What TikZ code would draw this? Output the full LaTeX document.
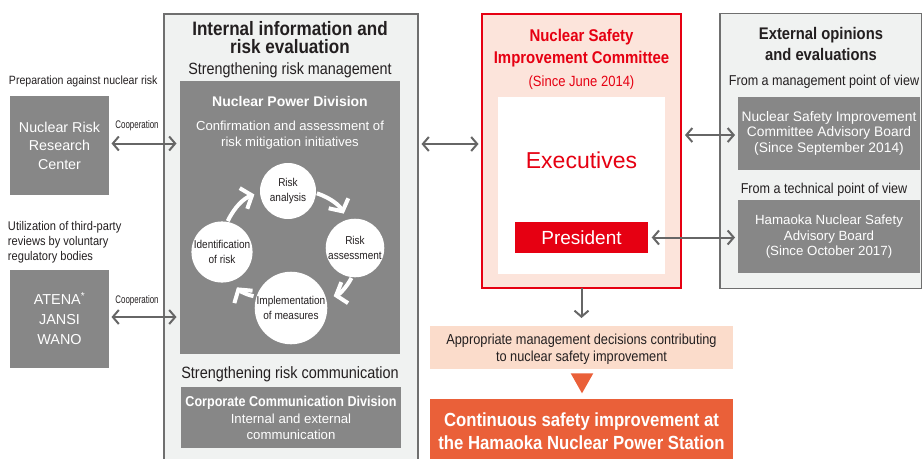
\documentclass[tikz,border=0pt]{standalone}
\usepackage{fontspec}
\setmainfont{Liberation Sans}[FakeStretch=0.88]
\newfontfamily\wide{Liberation Sans}
\newfontfamily\narrow{Liberation Sans}[FakeStretch=0.72]
\usetikzlibrary{arrows.meta}
\definecolor{panelc}{HTML}{F0F2F1}
\definecolor{pborder}{HTML}{6F6F6F}
\definecolor{gboxc}{HTML}{878787}
\definecolor{arrc}{HTML}{666666}
\definecolor{nred}{HTML}{E60012}
\definecolor{peachc}{HTML}{FCE4DB}
\definecolor{peachb}{HTML}{FBDCCB}
\definecolor{orng}{HTML}{EA6039}
\definecolor{txt}{HTML}{231F20}
\newcommand\fsz[2]{\fontsize{#1}{#2}\selectfont}
\begin{document}
\begin{tikzpicture}[x=1pt,y=-1pt,
  every node/.style={inner sep=0pt,outer sep=0pt},
  panel/.style={draw=pborder,line width=1.1pt,fill=panelc,anchor=north west},
  gbox/.style={fill=gboxc,text=white,align=center,anchor=north west},
  lbl/.style={text=txt,align=center},
  dbl/.style={draw=arrc,line width=2pt,{Straight Barb[length=6pt,width=14pt]}-{Straight Barb[length=6pt,width=14pt]}},
  sgl/.style={draw=arrc,line width=2pt,-{Straight Barb[length=6pt,width=14pt]}},
  cyc/.style={draw=white,line width=4pt,-{Straight Barb[length=9pt,width=22pt]}},
  circ/.style={circle,fill=white,minimum size=56pt,text=txt,align=center,font=\fsz{11.4}{15.5}}
]
\useasboundingbox (0,0) rectangle (923,458);

% ---------- left side ----------
\node[lbl,anchor=west,font=\fsz{12}{15}] (prep) at (9,81.5) {Preparation against nuclear risk};
\node[gbox,minimum width=99pt,minimum height=99pt,font=\wide\fsz{14.3}{18.5}] (nrrc) at (10,96) {Nuclear Risk\\Research\\Center};
\node[lbl,anchor=west,align=left,font=\fsz{12.6}{15.2}] (util) at (8,242.5) {Utilization of third-party\\reviews by voluntary\\regulatory bodies};
\node[gbox,minimum width=99pt,minimum height=98pt,font=\wide\fsz{14.4}{20}] (atena) at (10,270) {ATENA\textsuperscript{*}\\JANSI\\WANO};

% ---------- internal panel ----------
\node[panel,minimum width=254pt,minimum height=470pt] (intp) at (164,14) {};
\node[lbl,font=\bfseries\fsz{19.4}{17.5}] (intt) at (290,37.5) {Internal information and\\risk evaluation};
\node[lbl,font=\fsz{16.3}{18}] (srm) at (290,69.8) {Strengthening risk management};
\node[gbox,minimum width=220pt,minimum height=273pt] (npd) at (180,81) {};
\node[text=white,font=\wide\bfseries\fsz{14}{16}] (npdt) at (290,101) {Nuclear Power Division};
\node[text=white,align=center,font=\wide\fsz{13.1}{16.7}] (npds) at (290,135) {Confirmation and assessment of\\risk mitigation initiatives};

\node[circ] (ra) at (288,191) {Risk\\analysis};
\node[circ] (rs) at (355,248) {Risk\\assessment};
\node[circ] (im) at (291,308) {Implementation\\of measures};
\node[circ] (id) at (222,252) {Identification\\of risk};
\draw[cyc,shorten <=1pt,shorten >=6pt] (id.80) to[bend left=22] (ra.183);
\draw[cyc,shorten <=1pt,shorten >=7pt] (ra.-4) to[bend left=22] (rs.106);
\draw[cyc,shorten <=1pt,shorten >=8pt] (rs.264) to[bend left=22] (im.15);
\draw[cyc,shorten <=3pt,shorten >=8pt] (im.162) to[bend left=22] (id.-70);

\node[lbl,font=\fsz{16.4}{18}] (src) at (290,374) {Strengthening risk communication};
\node[gbox,minimum width=220pt,minimum height=61pt] (ccd) at (181,387) {};
\node[text=white,font=\bfseries\fsz{14.3}{16}] (ccdt) at (291,403) {Corporate Communication Division};
\node[text=white,align=center,font=\wide\fsz{13.2}{16}] (ccds) at (291,426.5) {Internal and external\\communication};

\draw[dbl,shorten <=2.5pt,shorten >=3.5pt] ([yshift=2pt]nrrc.east) -- ([yshift=2pt]npd.west |- nrrc.east);
\draw[dbl,shorten <=2.5pt,shorten >=3.5pt] ([yshift=2pt]atena.east) -- ([yshift=2pt]npd.west |- atena.east);
\node[lbl,font=\narrow\fsz{11}{12}] (coop1) at (137,125.5) {Cooperation};
\node[lbl,font=\narrow\fsz{11}{12}] (coop2) at (137,300.5) {Cooperation};

% ---------- committee ----------
\node[draw=nred,line width=1.1pt,fill=peachc,anchor=north west,minimum width=199pt,minimum height=274pt] (com) at (482,14) {};
\node[text=nred,align=center,font=\bfseries\fsz{17}{21.6}] (comt) at (581.5,48.2) {Nuclear Safety\\Improvement Committee};
\node[text=nred,font=\fsz{14.8}{16}] (coms) at (581.5,82.2) {(Since June 2014)};
\node[fill=white,anchor=north west,minimum width=167pt,minimum height=177pt] (exb) at (498,97) {};
\node[text=nred,font=\wide\fsz{23}{26}] (exec) at (581.5,160) {Executives};
\node[fill=nred,anchor=north west,minimum width=133pt,minimum height=31pt,text=white,font=\wide\fsz{19}{20}] (pres) at (515,222) {President};

\draw[dbl,shorten <=3.5pt,shorten >=3.5pt] ([yshift=-130pt]intp.north east) -- ([yshift=-130pt]com.north west);

% ---------- outcome ----------
\node[fill=peachb,anchor=north west,minimum width=303pt,minimum height=43.3pt] (dec) at (430,326) {};
\node[lbl,font=\fsz{14.5}{16.7}] (dect) at (581.5,349.5) {Appropriate management decisions contributing\\to nuclear safety improvement};
\draw[sgl,shorten >=8pt] (com.south) -- (dec.north -| com.south);
\fill[orng] (570.7,373.3) -- (593.3,373.3) -- (582,393.3) -- cycle;
\node[fill=orng,anchor=north west,minimum width=303pt,minimum height=65pt] (cont) at (430,399) {};
\node[text=white,align=center,font=\bfseries\fsz{19}{23.3}] (contt) at (581.5,431.4) {Continuous safety improvement at\\the Hamaoka Nuclear Power Station};

% ---------- external panel ----------
\node[panel,minimum width=201.5pt,minimum height=275pt] (extp) at (720,13.5) {};
\node[lbl,font=\bfseries\fsz{16.8}{21.4}] (extt) at (821,43.9) {External opinions\\and evaluations};
\node[lbl,font=\fsz{14.3}{16}] (mgv) at (824,82.3) {From a management point of view};
\node[gbox,minimum width=182pt,minimum height=73.3pt,font=\wide\fsz{13.8}{15.7}] (eb1) at (738,96.7) {Nuclear Safety Improvement\\Committee Advisory Board\\(Since September 2014)};
\node[lbl,font=\fsz{14.3}{16}] (tcv) at (824,189.6) {From a technical point of view};
\node[gbox,minimum width=182pt,minimum height=73.3pt,font=\wide\fsz{13.3}{15.7}] (eb2) at (738,200) {Hamaoka Nuclear Safety\\Advisory Board\\(Since October 2017)};

\draw[dbl,shorten <=4pt,shorten >=3pt] ([yshift=-1.7pt]com.east |- eb1.west) -- ([yshift=-1.7pt]eb1.west);
\draw[dbl,shorten <=3.7pt,shorten >=3pt] (pres.east) -- (eb2.west |- pres.east);
\end{tikzpicture}
\end{document}
